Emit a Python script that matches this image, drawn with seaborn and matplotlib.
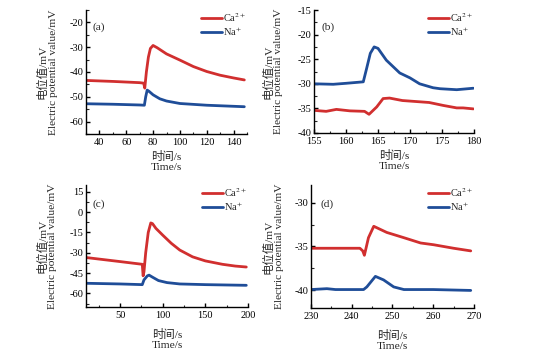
import numpy as np
import pandas as pd
import matplotlib
matplotlib.use("Agg")
import matplotlib.pyplot as plt
from matplotlib.ticker import MultipleLocator
import seaborn as sns

# ---------------- data ----------------
legend_labels = {"Ca": r"Ca$^{2+}$", "Na": r"Na$^{+}$"}

# panel (a)
a_ca_t = [30, 50, 70, 73, 73.8, 75, 76.5, 78, 80, 83, 90, 100, 110, 120, 130, 140, 148]
a_ca_v = [-43.4, -43.8, -44.3, -44.5, -46.5, -40, -34, -30.5, -29.3, -30.2, -32.7, -35.2, -37.8, -39.8, -41.3, -42.4, -43.2]
a_na_t = [30, 50, 70, 73.5, 74.5, 75.6, 77, 80, 85, 90, 100, 120, 148]
a_na_v = [-52.8, -53.0, -53.3, -53.4, -50, -47.3, -47.8, -49.2, -50.8, -51.7, -52.7, -53.4, -54.0]

# panel (b)
b_ca_t = [155, 156.9, 158.5, 160.6, 162.9, 163.6, 164.8, 165.8, 166.8, 168.8, 170.9, 173, 175.2, 177.3, 178.3, 179.9]
b_ca_v = [-35.4, -35.6, -35.2, -35.5, -35.6, -36.2, -34.7, -33.0, -32.9, -33.4, -33.6, -33.8, -34.4, -34.9, -34.9, -35.1]
b_na_t = [155, 158, 160, 162.7, 163.2, 163.8, 164.4, 165, 166.3, 168.4, 170, 171.5, 173.6, 174.7, 177.3, 179.9]
b_na_v = [-30.0, -30.1, -29.9, -29.6, -27.0, -23.8, -22.5, -22.8, -25.2, -27.8, -28.8, -30.0, -30.8, -31.0, -31.2, -30.9]

# panel (c)
c_ca_t = [10, 30, 50, 76, 77, 78, 80, 83, 86, 88, 92, 100, 110, 120, 135, 150, 170, 185, 198]
c_ca_v = [-33.5, -35, -36.5, -38.5, -47, -44, -30, -15, -8, -8.5, -12, -17, -23, -28, -33, -36, -38.5, -39.8, -40.5]
c_na_t = [10, 50, 76, 78, 82, 84, 88, 95, 105, 120, 150, 198]
c_na_v = [-52.5, -53, -53.5, -50, -47, -46.5, -48, -50.5, -52, -53, -53.5, -54]

# panel (d)
d_ca_t = [230, 235, 240, 242, 242.7, 243.1, 244.1, 245.4, 248.6, 252.8, 256.9, 260.1, 265, 269.2]
d_ca_v = [-35.2, -35.2, -35.2, -35.2, -35.5, -36.0, -34.0, -32.7, -33.4, -34.0, -34.6, -34.8, -35.2, -35.5]
d_na_t = [230, 233.9, 236, 242.9, 243.7, 245.8, 247.8, 250.3, 252.8, 260, 269.2]
d_na_v = [-39.9, -39.8, -39.9, -39.9, -39.6, -38.4, -38.8, -39.6, -39.9, -39.9, -40.0]

panels = [
    ("(a)", a_ca_t, a_ca_v, a_na_t, a_na_v),
    ("(b)", b_ca_t, b_ca_v, b_na_t, b_na_v),
    ("(c)", c_ca_t, c_ca_v, c_na_t, c_na_v),
    ("(d)", d_ca_t, d_ca_v, d_na_t, d_na_v),
]

# ---------------- style ----------------
sns.set_theme(style="ticks")
plt.rcParams["font.family"] = ["Liberation Serif", "Noto Sans CJK SC"]
plt.rcParams["mathtext.fontset"] = "stix"
plt.rcParams["axes.unicode_minus"] = False
palette = {"Ca": "#d12f2f", "Na": "#1f4d98"}

fig = plt.figure(figsize=(5.54, 3.61), dpi=100)
W, H = 554, 361
boxes = [(86, 247, 10, 134), (314, 474, 10, 133), (86, 248, 185, 307), (311, 474, 185, 308)]
xlims = [(30, 150), (155, 180), (10, 200), (230, 270)]
ylims = [(-65, -15), (-40, -15), (-70, 20), (-42, -28)]
xmaj = [20, 5, 50, 10]
xmin = [10, 2.5, 25, 5]
yticks = [np.arange(-60, -19, 10), np.arange(-40, -14, 5), np.arange(-60, 16, 15), [-40, -35, -30]]
ymin = [5, 2.5, 7.5, 2.5]
xpads = [2.5, 2.5, 6.5, 6]
ypads = [8.5, 10, 8.5, 7.5]
label_xy = [(0.04, 0.86), (0.045, 0.86), (0.04, 0.84), (0.06, 0.845)]

fs_tick = 7.5
fs_lab = 8.2
for i, (lab, ct, cv, nt, nv) in enumerate(panels):
    l, r, t, b = boxes[i]
    ax = fig.add_axes([l / W, (H - b) / H, (r - l) / W, (b - t) / H])
    df = pd.concat([
        pd.DataFrame({"t": ct, "v": cv, "ion": "Ca"}),
        pd.DataFrame({"t": nt, "v": nv, "ion": "Na"}),
    ])
    sns.lineplot(data=df, x="t", y="v", hue="ion", palette=palette, ax=ax,
                 linewidth=2.0, estimator=None, sort=False)
    ax.set_xlim(*xlims[i])
    ax.set_ylim(*ylims[i])
    ax.xaxis.set_major_locator(MultipleLocator(xmaj[i]))
    ax.xaxis.set_minor_locator(MultipleLocator(xmin[i]))
    ax.set_yticks(yticks[i])
    ax.yaxis.set_minor_locator(MultipleLocator(ymin[i]))
    for s in ["top", "right"]:
        ax.spines[s].set_visible(False)
    for s in ["left", "bottom"]:
        ax.spines[s].set_linewidth(1.0)
        ax.spines[s].set_color("black")
    ax.tick_params(which="major", direction="in", length=3, width=1.0, labelsize=fs_tick, pad=2, colors="black")
    ax.tick_params(axis="x", which="major", pad=3)
    ax.tick_params(which="minor", direction="in", length=1.8, width=0.8)
    ax.set_xlabel("时间/s\nTime/s", fontsize=fs_lab, labelpad=xpads[i], linespacing=1.15)
    ax.set_ylabel("电位值/mV\nElectric potential value/mV", fontsize=fs_lab, labelpad=ypads[i], linespacing=1.15)
    handles, labels = ax.get_legend_handles_labels()
    ax.legend(handles, [legend_labels[k] for k in labels], loc="upper right", frameon=False,
              fontsize=fs_tick, handlelength=2.0, handletextpad=0.1, borderaxespad=0.0,
              labelspacing=0.15, borderpad=0.1)
    ax.text(label_xy[i][0], label_xy[i][1], lab, transform=ax.transAxes, fontsize=fs_lab,
            ha="left", va="center")

fig.savefig("out.png", dpi=100)
